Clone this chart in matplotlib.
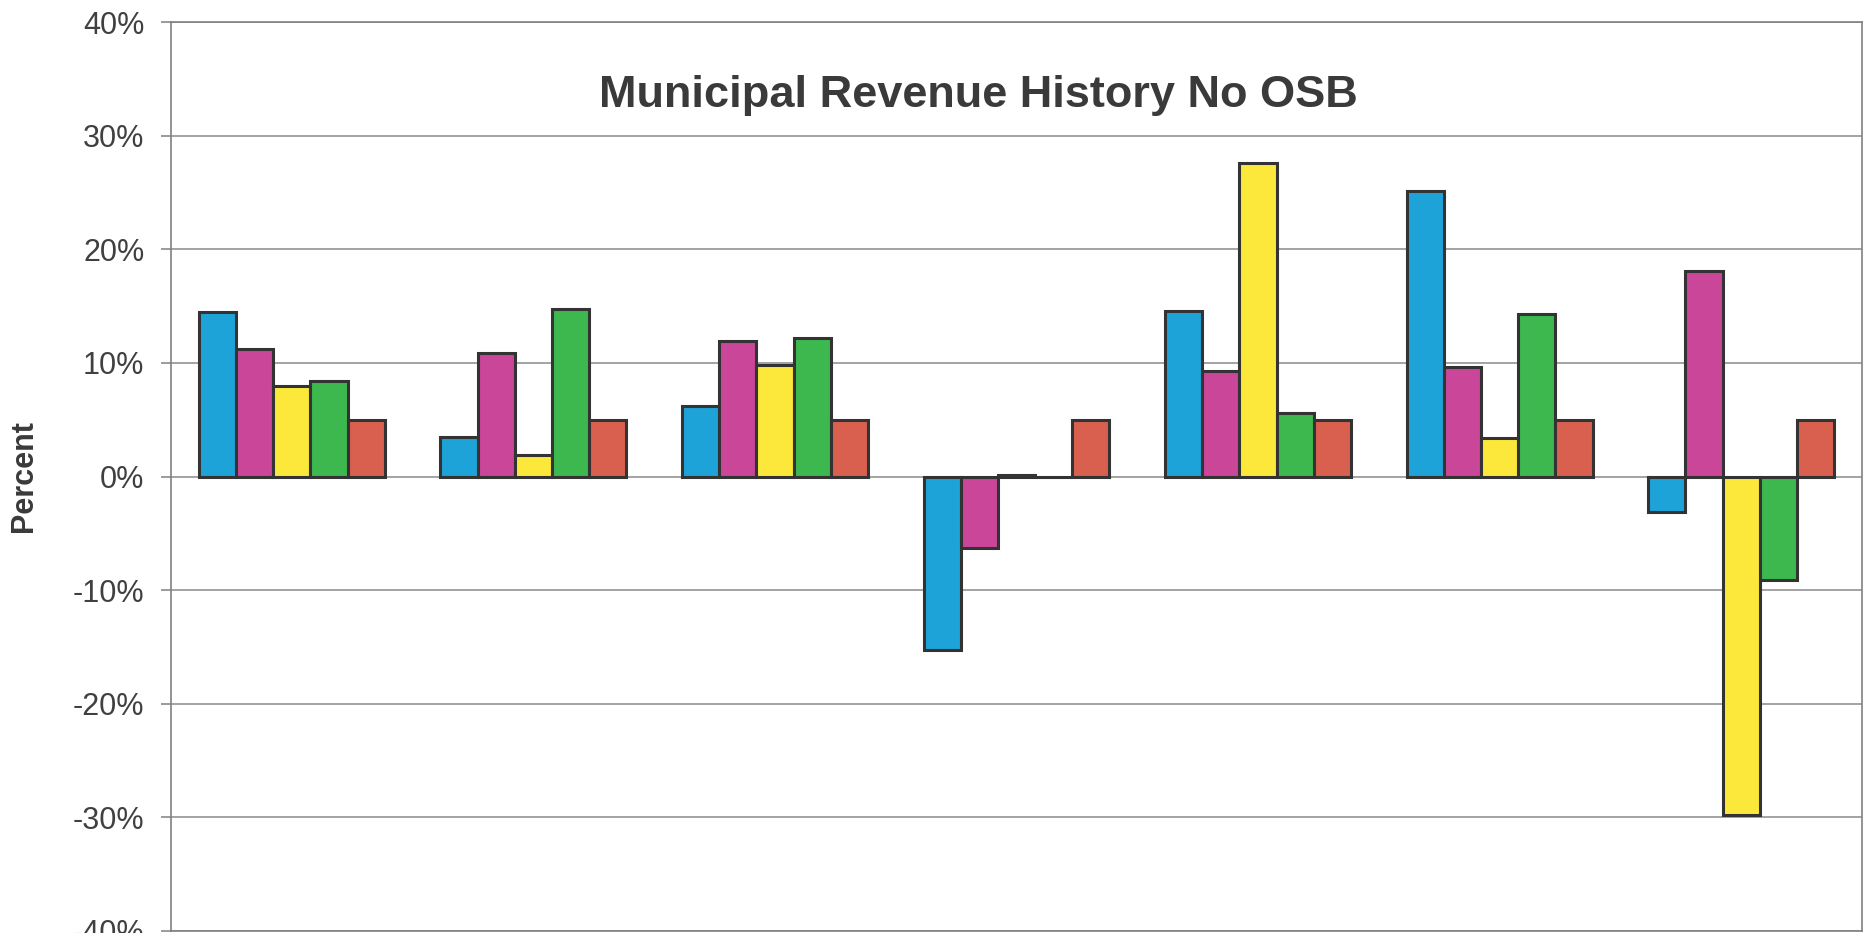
import numpy as np
import matplotlib
matplotlib.use('Agg')
import matplotlib.pyplot as plt
from matplotlib.ticker import FuncFormatter

plt.rcParams['font.family'] = ['Liberation Sans', 'DejaVu Sans']

# yearly % change, five series per period
periods = ['P1', 'P2', 'P3', 'P4', 'P5', 'P6', 'P7']
ser_blue = [14.5, 3.5, 6.2, -15.3, 14.6, 25.1, -3.1]
ser_magenta = [11.2, 10.9, 11.9, -6.3, 9.3, 9.6, 18.1]
ser_yellow = [8.0, 1.9, 9.8, 0.1, 27.6, 3.4, -29.8]
ser_green = [8.4, 14.7, 12.2, 0.0, 5.6, 14.3, -9.1]
ser_red = [5.0, 5.0, 5.0, 5.0, 5.0, 5.0, 5.0]

series = [ser_blue, ser_magenta, ser_yellow, ser_green, ser_red]
colors = ['#1ea3d9', '#c94698', '#fbe83a', '#3db84e', '#d9604f']

yticks = [-40, -30, -20, -10, 0, 10, 20, 30, 40]

fig = plt.figure(figsize=(18.69, 9.33), dpi=100)
ax = fig.add_axes([171/1869, 2/933, (1862-171)/1869, (931-22)/933])

x = np.arange(len(periods)) + 0.5
w = 1/6.5
for j, (vals, c) in enumerate(zip(series, colors)):
    ax.bar(x + (j-2)*w, vals, width=w, color=c, edgecolor='#333333',
           linewidth=2.2, zorder=3)

ax.set_xlim(0, len(periods))
ax.set_ylim(-40, 40)
ax.set_yticks(yticks)
ax.yaxis.set_major_formatter(FuncFormatter(lambda v, p: '%d%%' % v))
ax.set_xticks([])
ax.yaxis.grid(True, color='#8a8a8a', linewidth=1.1, zorder=0)
for s in ax.spines.values():
    s.set_color('#808080')
    s.set_linewidth(1.2)
ax.tick_params(axis='y', direction='out', length=7.2, width=1.1, color='#808080',
               labelsize=22, labelcolor='#404040', pad=12)
for lab in ax.get_yticklabels():
    lab.set_clip_on(False)

fig.text(978/1869, 1-95/933, 'Municipal Revenue History No OSB', ha='center', va='center',
         fontsize=32.5, fontweight='bold', color='#3a3a3a')
fig.text(24/1869, 1-476/933, 'Percent', rotation=90, ha='center', va='center',
         fontsize=22, fontweight='bold', color='#3a3a3a')

fig.savefig('out.png', dpi=100)
